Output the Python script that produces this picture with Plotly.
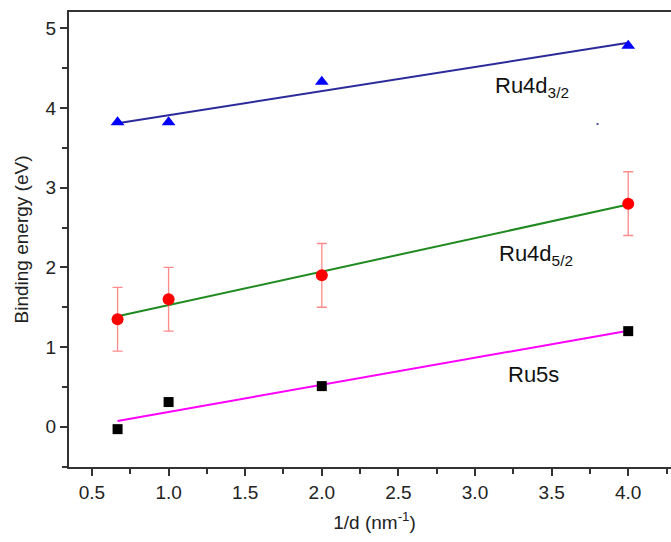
import numpy as np
import plotly.graph_objects as go

# Data
inv_d = [0.667, 1.0, 2.0, 4.0]
ru4d32 = [3.82, 3.82, 4.33, 4.78]
ru4d52 = [1.35, 1.60, 1.90, 2.80]
ru4d52_err = [0.40, 0.40, 0.40, 0.40]
ru5s = [-0.03, 0.31, 0.51, 1.20]
stray_x = [3.8]
stray_y = [3.8]

labels = ["Ru4d<sub>3/2</sub>", "Ru4d<sub>5/2</sub>", "Ru5s"]
label_x = [3.12, 3.145, 3.205]
label_y = [4.27, 2.15, 0.65]

FONT = "Liberation Sans, Arial, sans-serif"


def fit(x, y):
    p = np.polyfit(x, y, 1)
    xs = [min(x), max(x)]
    return xs, [p[0] * v + p[1] for v in xs]


fig = go.Figure()

for y, col in [(ru4d32, "#2a2a9a"), (ru4d52, "#1f8a1f"), (ru5s, "#ff00ff")]:
    fx, fy = fit(inv_d, y)
    fig.add_trace(go.Scatter(x=fx, y=fy, mode="lines",
                             line=dict(color=col, width=2), showlegend=False))

fig.add_trace(go.Scatter(x=inv_d, y=ru4d32, mode="markers",
                         marker=dict(symbol="triangle-up", size=12, color="#0000ff"),
                         showlegend=False))
fig.add_trace(go.Scatter(x=inv_d, y=ru4d52, mode="markers",
                         marker=dict(symbol="circle", size=12, color="#ff0000"),
                         error_y=dict(type="data", array=ru4d52_err, visible=True,
                                      color="rgba(255,60,60,0.6)", thickness=1.3, width=5),
                         showlegend=False))
fig.add_trace(go.Scatter(x=inv_d, y=ru5s, mode="markers",
                         marker=dict(symbol="square", size=10, color="#000000"),
                         showlegend=False))
fig.add_trace(go.Scatter(x=stray_x, y=stray_y, mode="markers",
                         marker=dict(symbol="square", size=2, color="#5555aa"),
                         showlegend=False))

for t, x, y in zip(labels, label_x, label_y):
    fig.add_annotation(x=x, y=y, text=t, showarrow=False, xanchor="left",
                       yanchor="middle", font=dict(family=FONT, size=22, color="#111"))

axis_common = dict(showgrid=False, zeroline=False, showline=True, linecolor="#333",
                   linewidth=2, ticks="outside", ticklen=7, tickwidth=1.5, automargin=False,
                   tickcolor="#333", tickfont=dict(family=FONT, size=19, color="#222"))

fig.update_xaxes(range=[0.35, 4.338], dtick=0.5, tickformat=".1f", mirror=True,
                 minor=dict(ticks="outside", ticklen=5, tickwidth=1.5, tickcolor="#333", dtick=0.25),
                 title=dict(text="1/d (nm<sup>-1</sup>)", font=dict(family=FONT, size=19, color="#222"),
                            standoff=14),
                 **axis_common)
fig.update_yaxes(range=[-0.505, 5.205], dtick=1, tick0=0, mirror=False,
                 minor=dict(ticks="outside", ticklen=5, tickwidth=1.5, tickcolor="#333", dtick=0.5),
                 title=dict(text="Binding energy (eV)", font=dict(family=FONT, size=19, color="#222"),
                            standoff=12),
                 **axis_common)

fig.update_layout(width=680, height=542, plot_bgcolor="white", paper_bgcolor="white",
                  margin=dict(l=69, r=0, t=12, b=75))

fig.write_html("out.html", config={"displayModeBar": False},
               post_script="document.body.style.margin='0px';document.body.style.overflow='hidden';")
